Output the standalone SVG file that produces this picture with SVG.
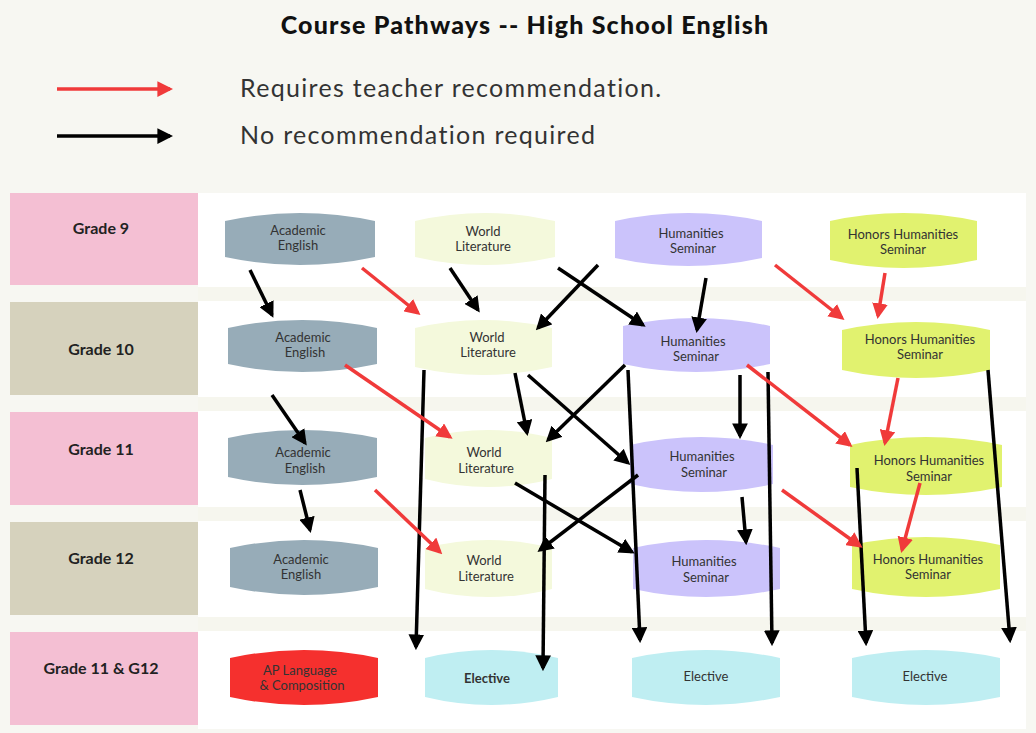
<svg xmlns="http://www.w3.org/2000/svg" width="1036" height="733" viewBox="0 0 1036 733">
<defs>
<marker id="ab" viewBox="0 0 10 10" refX="8" refY="5" markerWidth="4.5" markerHeight="4.5" orient="auto"><path d="M0,0L10,5L0,10z" fill="#000"/></marker>
<marker id="ar" viewBox="0 0 10 10" refX="8" refY="5" markerWidth="4.5" markerHeight="4.5" orient="auto"><path d="M0,0L10,5L0,10z" fill="#f03a3a"/></marker>
</defs>
<style>
text{font-family:"Lato","Liberation Sans",sans-serif;fill:#333}
.g text{font-size:16px;font-weight:bold;fill:#222}
.n text{font-size:13px;text-anchor:middle}
.b{stroke:#000;stroke-width:3.5;fill:none;marker-end:url(#ab)}
.r{stroke:#f03a3a;stroke-width:3.5;fill:none;marker-end:url(#ar)}
.ae{fill:#97acb8}.wl{fill:#f4f9dc}.hs{fill:#cbc3fb}.hh{fill:#e1f26f}.el{fill:#bfeef2}.ap{fill:#f5302e}
</style>
<rect width="1036" height="733" fill="#f7f7f2"/>
<rect x="198" y="193" width="828" height="536" fill="#fff"/>
<g fill="#f6f6ee"><rect x="198" y="287" width="828" height="14"/><rect x="198" y="397" width="828" height="14"/><rect x="198" y="507" width="828" height="14"/><rect x="198" y="617" width="828" height="14"/></g>
<text x="525" y="34" text-anchor="middle" style="font-size:25px;font-weight:900;fill:#111;letter-spacing:1.2px">Course Pathways -- High School English</text>
<g id="legend">
<line x1="57" y1="89" x2="170" y2="89" class="r"/>
<line x1="57" y1="136" x2="170" y2="136" class="b"/>
<text x="240" y="97" style="font-size:25px;letter-spacing:1.3px">Requires teacher recommendation.</text>
<text x="240" y="144" style="font-size:25px;letter-spacing:1.3px">No recommendation required</text>
</g>
<g class="g">
<g id="g9"><rect x="10" y="193" width="188" height="92" fill="#f4bfd3"/><text x="101" y="234" text-anchor="middle">Grade 9</text></g>
<g id="g10"><rect x="10" y="302" width="188" height="93" fill="#d6d2bd"/><text x="101" y="355" text-anchor="middle">Grade 10</text></g>
<g id="g11"><rect x="10" y="412" width="188" height="93" fill="#f4bfd3"/><text x="101" y="455" text-anchor="middle">Grade 11</text></g>
<g id="g12"><rect x="10" y="522" width="188" height="93" fill="#d6d2bd"/><text x="101" y="564" text-anchor="middle">Grade 12</text></g>
<g id="g1112"><rect x="10" y="632" width="188" height="93" fill="#f4bfd3"/><text x="101" y="674" text-anchor="middle">Grade 11 &amp; G12</text></g>
</g>
<g class="n">
<g id="ae9"><path class="ae" d="M225,221Q300,205 375,221V257Q300,273 225,257Z"/><text x="298" y="235">Academic</text><text x="298" y="250">English</text></g>
<g id="wl9"><path class="wl" d="M415,221Q485,205 555,221V257Q485,273 415,257Z"/><text x="483" y="236">World</text><text x="483" y="251">Literature</text></g>
<g id="hs9"><path class="hs" d="M615,221Q688,205 762,221V258Q688,274 615,258Z"/><text x="691" y="238">Humanities</text><text x="693" y="253">Seminar</text></g>
<g id="hh9"><path class="hh" d="M830,221Q903,205 977,221V260Q903,276 830,260Z"/><text x="903" y="239">Honors Humanities</text><text x="903" y="254">Seminar</text></g>

<g id="ae10"><path class="ae" d="M228,328Q302,312 377,328V364Q302,380 228,364Z"/><text x="303" y="342">Academic</text><text x="305" y="357">English</text></g>
<g id="wl10"><path class="wl" d="M415,328Q483,312 552,328V367Q483,383 415,367Z"/><text x="487" y="342">World</text><text x="488" y="357">Literature</text></g>
<g id="hs10"><path class="hs" d="M623,326Q696,310 770,326V364Q696,380 623,364Z"/><text x="693" y="346">Humanities</text><text x="696" y="361">Seminar</text></g>
<g id="hh10"><path class="hh" d="M842,330Q916,314 990,330V370Q916,386 842,370Z"/><text x="920" y="344">Honors Humanities</text><text x="920" y="359">Seminar</text></g>

<g id="ae11"><path class="ae" d="M228,438Q302,422 377,438V477Q302,493 228,477Z"/><text x="303" y="457">Academic</text><text x="305" y="473">English</text></g>
<g id="wl11"><path class="wl" d="M425,438Q488,422 552,438V479Q488,495 425,479Z"/><text x="484" y="457">World</text><text x="486" y="473">Literature</text></g>
<g id="hs11"><path class="hs" d="M630,445Q701,429 773,445V484Q701,500 630,484Z"/><text x="702" y="461">Humanities</text><text x="704" y="477">Seminar</text></g>
<g id="hh11"><path class="hh" d="M850,445Q926,429 1002,445V487Q926,503 850,487Z"/><text x="929" y="465">Honors Humanities</text><text x="929" y="481">Seminar</text></g>

<g id="ae12"><path class="ae" d="M230,548Q304,532 378,548V587Q304,603 230,587Z"/><text x="301" y="564">Academic</text><text x="301" y="579">English</text></g>
<g id="wl12"><path class="wl" d="M425,548Q488,532 552,548V589Q488,605 425,589Z"/><text x="484" y="565">World</text><text x="486" y="581">Literature</text></g>
<g id="hs12"><path class="hs" d="M633,548Q706,532 780,548V589Q706,605 633,589Z"/><text x="704" y="566">Humanities</text><text x="706" y="582">Seminar</text></g>
<g id="hh12"><path class="hh" d="M852,545Q926,529 1000,545V589Q926,605 852,589Z"/><text x="928" y="564">Honors Humanities</text><text x="928" y="579">Seminar</text></g>

<g id="ap"><path class="ap" d="M230,658Q304,642 378,658V697Q304,713 230,697Z"/><text x="300" y="675">AP Language</text><text x="302" y="690">&amp; Composition</text></g>
<g id="el1"><path class="el" d="M425,658Q491,642 558,658V697Q491,713 425,697Z"/><text x="487" y="683" style="font-weight:bold">Elective</text></g>
<g id="el2"><path class="el" d="M632,658Q706,642 780,658V697Q706,713 632,697Z"/><text x="706" y="681">Elective</text></g>
<g id="el3"><path class="el" d="M852,658Q926,642 1000,658V697Q926,713 852,697Z"/><text x="925" y="681">Elective</text></g>
</g>
<g id="connectors">
<line class="b" x1="250" y1="270" x2="272" y2="315"/>
<line class="b" x1="450" y1="268" x2="478" y2="310"/>
<line class="b" x1="598" y1="265" x2="538" y2="328"/>
<line class="b" x1="558" y1="268" x2="643" y2="325"/>
<line class="b" x1="706" y1="278" x2="697" y2="330"/>
<line class="b" x1="424" y1="370" x2="416" y2="647"/>
<line class="b" x1="515" y1="373" x2="527" y2="433"/>
<line class="b" x1="528" y1="375" x2="628" y2="463"/>
<line class="b" x1="625" y1="365" x2="548" y2="440"/>
<line class="b" x1="628" y1="370" x2="640" y2="640"/>
<line class="b" x1="740" y1="375" x2="740" y2="436"/>
<line class="b" x1="768" y1="372" x2="772" y2="643"/>
<line class="b" x1="988" y1="370" x2="1010" y2="640"/>
<line class="b" x1="272" y1="395" x2="305" y2="443"/>
<line class="b" x1="300" y1="490" x2="310" y2="530"/>
<line class="b" x1="545" y1="475" x2="543" y2="668"/>
<line class="b" x1="515" y1="483" x2="632" y2="552"/>
<line class="b" x1="638" y1="475" x2="540" y2="550"/>
<line class="b" x1="742" y1="497" x2="746" y2="542"/>
<line class="b" x1="857" y1="468" x2="866" y2="643"/>
<line class="r" x1="362" y1="268" x2="418" y2="313"/>
<line class="r" x1="775" y1="265" x2="842" y2="318"/>
<line class="r" x1="885" y1="273" x2="878" y2="316"/>
<line class="r" x1="345" y1="365" x2="450" y2="437"/>
<line class="r" x1="747" y1="365" x2="850" y2="445"/>
<line class="r" x1="898" y1="378" x2="885" y2="443"/>
<line class="r" x1="375" y1="490" x2="440" y2="552"/>
<line class="r" x1="782" y1="490" x2="860" y2="546"/>
<line class="r" x1="920" y1="483" x2="902" y2="550"/>
</g>
</svg>
